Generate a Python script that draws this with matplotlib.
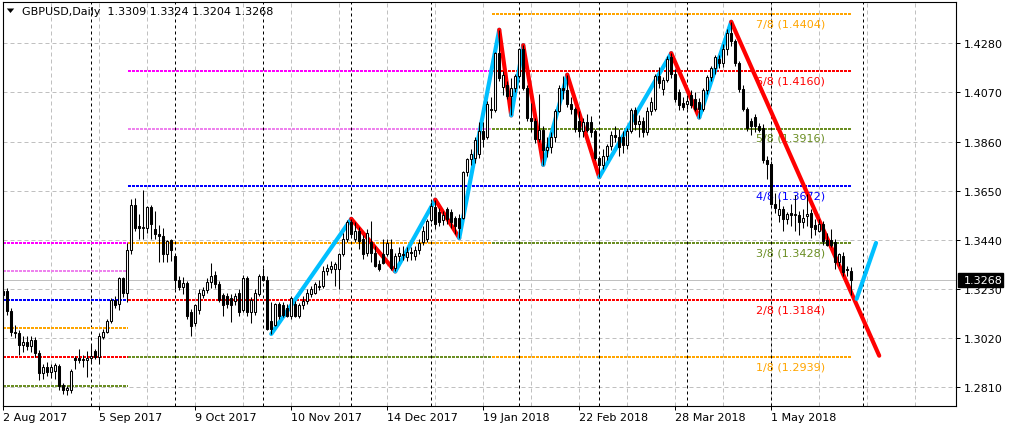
import matplotlib
matplotlib.use("Agg")
import matplotlib.pyplot as plt
from matplotlib.patches import Rectangle, Polygon
from matplotlib.transforms import IdentityTransform
import numpy as np

# ---------------- data ----------------
open_ = [1.3203,1.3222,1.3138,1.3045,1.3040,1.2990,1.3005,1.2985,1.3010,1.2955,
 1.2870,1.2895,1.2875,1.2880,1.2900,1.2820,1.2800,1.2800,1.2935,1.2935,
 1.2925,1.2925,1.2935,1.2965,1.2940,1.3025,1.3045,1.3095,1.3185,1.3165,
 1.3275,1.3215,1.3395,1.3590,1.3500,1.3490,1.3490,1.3580,1.3485,1.3465,
 1.3455,1.3380,1.3440,1.3370,1.3270,1.3240,1.3255,1.3130,1.3085,1.3140,
 1.3205,1.3225,1.3260,1.3290,1.3250,1.3205,1.3200,1.3190,1.3180,1.3215,
 1.3140,1.3275,1.3130,1.3130,1.3210,1.3285,1.3270,1.3095,1.3075,1.3165,
 1.3160,1.3150,1.3115,1.3165,1.3115,1.3160,1.3180,1.3210,1.3215,1.3240,
 1.3245,1.3305,1.3315,1.3315,1.3315,1.3380,1.3445,1.3515,1.3445,1.3480,
 1.3445,1.3385,1.3430,1.3385,1.3335,1.3380,1.3380,1.3400,1.3318,1.3372,
 1.3380,1.3365,1.3390,1.3370,1.3395,1.3430,1.3445,1.3525,1.3580,1.3560,
 1.3525,1.3570,1.3560,1.3535,1.3535,1.3535,1.3730,1.3785,1.3790,1.3805,
 1.3905,1.3880,1.4000,1.3995,1.4238,1.4095,1.4100,1.4055,1.4090,1.4140,
 1.4255,1.4090,1.3960,1.3950,1.3870,1.3910,1.3825,1.3835,1.3880,1.3990,
 1.4090,1.4080,1.4020,1.4000,1.3950,1.3905,1.3945,1.3945,1.3905,1.3790,
 1.3760,1.3800,1.3840,1.3890,1.3880,1.3880,1.3845,1.3905,1.3995,1.3935,
 1.3950,1.3900,1.3990,1.4000,1.4140,1.4085,1.4125,1.4220,1.4150,1.4070,
 1.4025,1.4020,1.4060,1.4040,1.4030,1.4000,1.4080,1.4135,1.4175,1.4215,
 1.4195,1.4255,1.4325,1.4290,1.4195,1.4085,1.4000,1.3950,1.3965,1.3925,
 1.3920,1.3780,1.3765,1.3595,1.3545,1.3570,1.3530,1.3555,1.3545,1.3545,
 1.3515,1.3540,1.3555,1.3505,1.3480,1.3507,1.3440,1.3440,1.3430,1.3345,
 1.3372,1.3315,1.3309]

high = [1.3265,1.3235,1.3150,1.3075,1.3055,1.3030,1.3030,1.3030,1.3025,1.2970,
 1.2910,1.2920,1.2910,1.2915,1.2910,1.2830,1.2815,1.2890,1.2945,1.2975,
 1.2950,1.2965,1.2990,1.2975,1.3040,1.3060,1.3100,1.3190,1.3200,1.3280,
 1.3280,1.3425,1.3615,1.3620,1.3550,1.3655,1.3585,1.3590,1.3565,1.3505,
 1.3490,1.3440,1.3445,1.3380,1.3285,1.3280,1.3265,1.3145,1.3165,1.3230,
 1.3240,1.3275,1.3340,1.3305,1.3265,1.3215,1.3215,1.3210,1.3215,1.3230,
 1.3290,1.3285,1.3195,1.3230,1.3295,1.3320,1.3285,1.3175,1.3170,1.3175,
 1.3175,1.3165,1.3200,1.3180,1.3170,1.3200,1.3230,1.3245,1.3260,1.3270,
 1.3330,1.3335,1.3350,1.3345,1.3385,1.3470,1.3525,1.3530,1.3515,1.3495,
 1.3460,1.3485,1.3520,1.3415,1.3355,1.3445,1.3445,1.3445,1.3385,1.3410,
 1.3415,1.3410,1.3410,1.3415,1.3445,1.3500,1.3530,1.3600,1.3612,1.3575,
 1.3565,1.3580,1.3570,1.3540,1.3550,1.3735,1.3790,1.3830,1.3880,1.3945,
 1.3945,1.4035,1.4050,1.4245,1.4338,1.4160,1.4120,1.4130,1.4150,1.4260,
 1.4272,1.4100,1.4025,1.3960,1.4065,1.3925,1.3880,1.3900,1.4000,1.4100,
 1.4140,1.4146,1.4050,1.4010,1.3990,1.3960,1.3980,1.3970,1.3915,1.3800,
 1.3830,1.3850,1.3905,1.3925,1.3915,1.3905,1.3920,1.4005,1.4010,1.3975,
 1.3965,1.4010,1.4050,1.4150,1.4180,1.4135,1.4225,1.4238,1.4170,1.4085,
 1.4050,1.4060,1.4080,1.4070,1.4045,1.4090,1.4145,1.4185,1.4230,1.4230,
 1.4275,1.4340,1.4372,1.4300,1.4205,1.4100,1.4010,1.3960,1.3980,1.3940,
 1.3935,1.3800,1.3775,1.3640,1.3615,1.3585,1.3560,1.3595,1.3630,1.3565,
 1.3570,1.3635,1.3570,1.3530,1.3530,1.3520,1.3470,1.3485,1.3445,1.3385,
 1.3390,1.3330,1.3324]

low = [1.3182,1.3120,1.3030,1.3020,1.2950,1.2960,1.2970,1.2960,1.2940,1.2840,
 1.2845,1.2860,1.2850,1.2845,1.2800,1.2780,1.2775,1.2785,1.2890,1.2915,
 1.2895,1.2855,1.2915,1.2930,1.2910,1.3015,1.3040,1.3085,1.3150,1.3140,
 1.3195,1.3175,1.3380,1.3480,1.3445,1.3445,1.3470,1.3445,1.3445,1.3345,
 1.3345,1.3345,1.3350,1.3230,1.3225,1.3210,1.3100,1.3030,1.3070,1.3125,
 1.3190,1.3215,1.3235,1.3235,1.3175,1.3115,1.3150,1.3090,1.3160,1.3115,
 1.3130,1.3115,1.3085,1.3120,1.3200,1.3265,1.3055,1.3038,1.3070,1.3100,
 1.3110,1.3110,1.3100,1.3110,1.3105,1.3145,1.3165,1.3195,1.3210,1.3225,
 1.3235,1.3290,1.3300,1.3245,1.3230,1.3370,1.3430,1.3455,1.3430,1.3400,
 1.3360,1.3372,1.3345,1.3322,1.3305,1.3335,1.3370,1.3310,1.3305,1.3350,
 1.3355,1.3350,1.3355,1.3355,1.3380,1.3420,1.3430,1.3515,1.3485,1.3500,
 1.3505,1.3510,1.3490,1.3466,1.3448,1.3530,1.3715,1.3760,1.3770,1.3790,
 1.3835,1.3870,1.3960,1.3985,1.4120,1.4060,1.4040,1.3972,1.4070,1.4130,
 1.4080,1.3950,1.3900,1.3855,1.3860,1.3761,1.3795,1.3810,1.3860,1.3985,
 1.4040,1.4010,1.3980,1.3900,1.3880,1.3880,1.3900,1.3880,1.3780,1.3708,
 1.3745,1.3780,1.3825,1.3860,1.3800,1.3810,1.3830,1.3895,1.3910,1.3880,
 1.3880,1.3890,1.3975,1.3990,1.4090,1.4060,1.4115,1.4130,1.4030,1.3995,
 1.3995,1.4000,1.4005,1.3990,1.3963,1.3990,1.4065,1.4120,1.4150,1.4175,
 1.4180,1.4230,1.4270,1.4185,1.4070,1.3990,1.3905,1.3890,1.3900,1.3900,
 1.3770,1.3700,1.3590,1.3555,1.3515,1.3480,1.3510,1.3500,1.3480,1.3460,
 1.3490,1.3500,1.3450,1.3460,1.3475,1.3420,1.3415,1.3410,1.3315,1.3330,
 1.3287,1.3285,1.3204]

close = [1.3222,1.3138,1.3045,1.3040,1.2990,1.3005,1.2985,1.3010,1.2955,1.2870,
 1.2895,1.2875,1.2895,1.2905,1.2815,1.2800,1.2805,1.2880,1.2925,1.2925,
 1.2930,1.2935,1.2945,1.2940,1.3030,1.3045,1.3095,1.3185,1.3160,1.3275,
 1.3215,1.3395,1.3590,1.3490,1.3490,1.3495,1.3580,1.3510,1.3465,1.3455,
 1.3380,1.3435,1.3395,1.3270,1.3240,1.3255,1.3115,1.3073,1.3160,1.3215,
 1.3225,1.3260,1.3285,1.3250,1.3185,1.3160,1.3165,1.3160,1.3200,1.3130,
 1.3275,1.3130,1.3185,1.3215,1.3285,1.3270,1.3060,1.3060,1.3165,1.3115,
 1.3120,1.3115,1.3190,1.3115,1.3160,1.3180,1.3215,1.3230,1.3250,1.3245,
 1.3305,1.3320,1.3330,1.3335,1.3380,1.3445,1.3515,1.3465,1.3480,1.3435,
 1.3380,1.3470,1.3385,1.3330,1.3315,1.3340,1.3425,1.3318,1.3372,1.3385,
 1.3375,1.3388,1.3383,1.3395,1.3425,1.3480,1.3522,1.3586,1.3508,1.3515,
 1.3545,1.3530,1.3515,1.3500,1.3492,1.3728,1.3786,1.3805,1.3865,1.3905,
 1.3870,1.4020,1.3995,1.4238,1.4130,1.4145,1.4055,1.4090,1.4140,1.4255,
 1.4090,1.3960,1.3950,1.3870,1.3910,1.3825,1.3835,1.3880,1.3990,1.4090,
 1.4080,1.4020,1.4000,1.3915,1.3905,1.3945,1.3910,1.3900,1.3790,1.3760,
 1.3800,1.3840,1.3890,1.3880,1.3835,1.3845,1.3905,1.3995,1.3935,1.3950,
 1.3900,1.3990,1.4030,1.4140,1.4110,1.4125,1.4215,1.4150,1.4040,1.4015,
 1.4010,1.4035,1.4015,1.4000,1.4000,1.4080,1.4135,1.4175,1.4220,1.4195,
 1.4255,1.4325,1.4290,1.4195,1.4085,1.4000,1.3920,1.3925,1.3925,1.3910,
 1.3780,1.3765,1.3595,1.3575,1.3570,1.3530,1.3550,1.3545,1.3550,1.3515,
 1.3535,1.3550,1.3495,1.3485,1.3510,1.3436,1.3420,1.3420,1.3345,1.3380,
 1.3301,1.3310,1.3268]

date_idx = [0, 24, 48, 72, 96, 120, 144, 168, 192]
date_labels = ["2 Aug 2017", "5 Sep 2017", "9 Oct 2017", "10 Nov 2017", "14 Dec 2017",
               "19 Jan 2018", "22 Feb 2018", "28 Mar 2018", "1 May 2018"]
month_sep_idx = [22, 43, 65, 87, 107, 129, 149, 171, 192, 215]
price_ticks = [1.2810, 1.3020, 1.3230, 1.3440, 1.3650, 1.3860, 1.4070, 1.4280]

# Murrey math level sets (start bar, end bar, levels, colours)
mm1_span = (0, 31.3)
mm1_levels = [1.3428, 1.33059, 1.31838, 1.30617, 1.29396, 1.28175]
mm1_colors = ["#FF00FF", "#EE82EE", "#0000FF", "#FFA500", "#FF0000", "#6B8E23"]
mm2_span = (31.3, 122.3)
mm2_levels = [1.4160, 1.3916, 1.3672, 1.3428, 1.3184, 1.2939]
mm2_colors = ["#FF00FF", "#EE82EE", "#0000FF", "#FFA500", "#FF0000", "#6B8E23"]
mm3_span = (122.3, 212.1)
mm3_levels = [1.4404, 1.4160, 1.3916, 1.3672, 1.3428, 1.3184, 1.2939]
mm3_octaves = [7, 6, 5, 4, 3, 2, 1]
mm3_colors = ["#FFA500", "#FF0000", "#6B8E23", "#0000FF", "#6B8E23", "#FF0000", "#FFA500"]

# ZigZag
zz_idx = [67, 87, 98, 108, 114, 124, 127, 130, 135, 141, 149, 167, 174, 182, 219]
zz_val = [1.3038, 1.3530, 1.3305, 1.3612, 1.3448, 1.4338, 1.3972, 1.4272, 1.3761,
          1.4146, 1.3708, 1.4238, 1.3963, 1.4372, 1.2945]
proj_idx = [213.35, 218.2]
proj_val = [1.3188, 1.3427]

title_text = "GBPUSD,Daily  1.3309 1.3324 1.3204 1.3268"
bid = 1.3268

assert len(open_) == len(high) == len(low) == len(close), (len(open_), len(high), len(low), len(close))

# ---------------- figure ----------------
W, H = 1009, 431
fig = plt.figure(figsize=(W / 100, H / 100), dpi=100)
fig.patch.set_facecolor("white")
L, R, T, B = 2.7, 956.0, 2.7, 406.5
ax = fig.add_axes([L / W, 1 - B / H, (R - L) / W, (B - T) / H])
ax.set_xlim(-0.15, 238.2)
ax.set_ylim(1.27322, 1.44579)
ax.set_facecolor("white")

grid_kw = dict(color="#C0C0C0", lw=0.72, ls=(0, (4, 3)), zorder=1)
for gx in range(0, 240, 12):
    ax.axvline(gx, **grid_kw)
for gy in price_ticks:
    ax.axhline(gy, **grid_kw)
for sx in month_sep_idx:
    ax.axvline(sx, color="black", lw=0.72, ls=(0, (3, 3)), zorder=1.2)
ax.axhline(bid, color="#C0C0C0", lw=0.72, zorder=1.3)

dot = (0, (1, 0.5))
for span, levels, colors in [(mm1_span, mm1_levels, mm1_colors),
                             (mm2_span, mm2_levels, mm2_colors),
                             (mm3_span, mm3_levels, mm3_colors)]:
    for lvl, col in zip(levels, colors):
        ax.plot(list(span), [lvl, lvl], color=col, lw=1.6, ls=dot,
                dash_capstyle="butt", antialiased=False, zorder=2)

for lvl, octv, col in zip(mm3_levels, mm3_octaves, mm3_colors):
    ax.annotate(f"{octv}/8 ({lvl:.4f})", xy=(196.9, lvl), xytext=(0, -3.2),
                textcoords="offset points", ha="center", va="top",
                fontsize=8, color=col, zorder=2.5)

# zigzag
for k in range(len(zz_idx) - 1):
    up = zz_val[k + 1] > zz_val[k]
    ax.plot(zz_idx[k:k + 2], zz_val[k:k + 2], color="#00BFFF" if up else "#FF0000",
            lw=3.0, solid_capstyle="round", zorder=3)
ax.plot(proj_idx, proj_val, color="#00BFFF", lw=3.0, solid_capstyle="round", zorder=3)

# candles
o = np.array(open_); h = np.array(high); lo = np.array(low); c = np.array(close)
x = np.arange(len(c))
ax.vlines(x, lo, h, color="black", lw=0.75, zorder=5)
bull = c >= o
ax.bar(x, np.abs(c - o), bottom=np.minimum(o, c), width=0.6,
       color=np.where(bull, "white", "black"), edgecolor="black", linewidth=0.75,
       zorder=6)

# axes styling
for sp in ax.spines.values():
    sp.set_color("black"); sp.set_linewidth(0.8); sp.set_zorder(7)
ax.yaxis.tick_right()
ax.set_yticks(price_ticks)
ax.set_yticklabels([f"{v:.4f}" for v in price_ticks])
ax.set_xticks(date_idx)
ax.set_xticklabels(date_labels, ha="left")
ax.tick_params(axis="y", direction="out", length=3.2, width=0.72, labelsize=8, pad=2.2, colors="black")
ax.tick_params(axis="x", direction="out", length=3.0, width=0.72, labelsize=8, pad=2.0, colors="black")

# current price box
ytr = ax.get_yaxis_transform()
box_h = 0.00568
ax.add_patch(Rectangle((1.0018, bid - box_h / 2), 0.0478, box_h, transform=ytr,
                       facecolor="black", edgecolor="black", clip_on=False, zorder=10))
ax.text(1.0084, bid, f"{bid:.4f}", transform=ytr, color="white", fontsize=8,
        va="center", ha="left", zorder=11, clip_on=False)

# title
fig.patches.append(Polygon([[6.8, H - 9.5], [14.2, H - 9.5], [10.5, H - 14.0]], closed=True,
                           transform=IdentityTransform(), facecolor="black", edgecolor="none"))
fig.text(21.5 / W, 1 - 12.3 / H, title_text, fontsize=8, va="center", ha="left", color="black")

fig.savefig("out.png", dpi=100, facecolor="white")
